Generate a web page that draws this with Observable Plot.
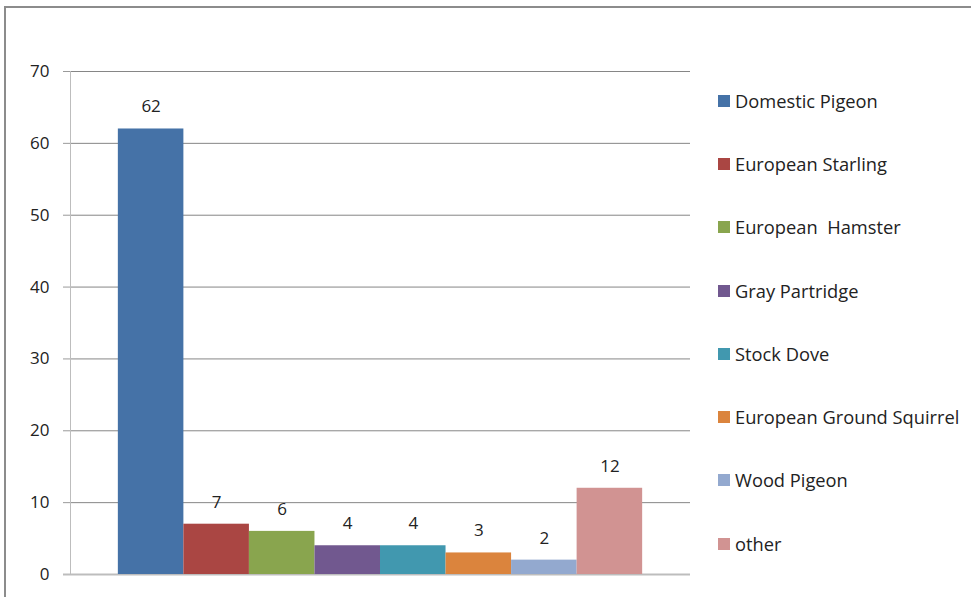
<!DOCTYPE html>
<html>
<head>
<meta charset="utf-8">
<script src="https://cdn.jsdelivr.net/npm/d3@7"></script>
<script src="https://cdn.jsdelivr.net/npm/@observablehq/plot@0.6"></script>
<style>
  html, body { margin: 0; padding: 0; background: #fff; overflow: hidden; }
  body { width: 971px; height: 597px; position: relative; font-family: "Open Sans", Lato, sans-serif; }
  #frame { position: absolute; left: 4px; top: 6px; width: 1100px; height: 800px; border: 2px solid #8c8c8c; box-sizing: border-box; }
  #chart { position: absolute; left: 0; top: 0; }
  #legend { position: absolute; left: 718px; top: 0; }
  .item { position: absolute; left: 0; white-space: pre; font-size: 18.3px; color: #222; line-height: 22px; }
  .sw { position: absolute; left: 0; top: 5px; width: 12px; height: 12px; }
  .lbl { position: absolute; left: 17px; top: 0; }
</style>
</head>
<body>
<div id="frame"></div>
<div id="chart"></div>
<div id="legend"></div>
<script>
const species = ["Domestic Pigeon", "European Starling", "European  Hamster", "Gray Partridge", "Stock Dove", "European Ground Squirrel", "Wood Pigeon", "other"];
const counts = [62, 7, 6, 4, 4, 3, 2, 12];
const colors = ["#4572A7", "#AA4643", "#89A54E", "#71588F", "#4198AF", "#DB843D", "#93A9CF", "#D19392"];
const yTicks = [0, 10, 20, 30, 40, 50, 60, 70];

const data = species.map((s, i) => ({species: s, count: counts[i]}));

const chart = Plot.plot({
  width: 700,
  height: 597,
  marginLeft: 70,
  marginRight: 10,
  marginTop: 71,
  marginBottom: 23,
  style: {fontFamily: "'Open Sans', Lato, sans-serif", fontSize: "17px", color: "#222", background: "transparent"},
  x: {domain: species, paddingInner: 0, paddingOuter: 0.73, round: false, axis: null},
  y: {domain: [0, 70], ticks: yTicks, label: null},
  color: {domain: species, range: colors},
  marks: [
    Plot.gridY(yTicks.filter(d => d > 0), {stroke: "#868686", strokeOpacity: 1, strokeWidth: 1}),
    Plot.axisY({ticks: yTicks, tickSize: 7, tickPadding: 14, stroke: "#9a9a9a", label: null, fontSize: 17}),
    Plot.ruleY([0], {stroke: "#bdbdbd", strokeWidth: 2, insetLeft: -7}),
    Plot.barY(data, {x: "species", y: "count", fill: "species", inset: 0}),
    Plot.text(data, {x: "species", y: "count", text: d => String(d.count), dy: -22, fill: "#222", fontSize: 17}),
    Plot.frame({anchor: "left", stroke: "#bdbdbd"})
  ]
});
document.getElementById("chart").appendChild(chart);

const legend = document.getElementById("legend");
const rowTops = [90, 153, 216, 280, 343, 406, 469, 533];
species.forEach((s, i) => {
  const it = document.createElement("div");
  it.className = "item";
  it.style.top = rowTops[i] + "px";
  const sw = document.createElement("div");
  sw.className = "sw";
  sw.style.background = colors[i];
  const lb = document.createElement("div");
  lb.className = "lbl";
  lb.textContent = s;
  it.appendChild(sw);
  it.appendChild(lb);
  legend.appendChild(it);
});
</script>
</body>
</html>
